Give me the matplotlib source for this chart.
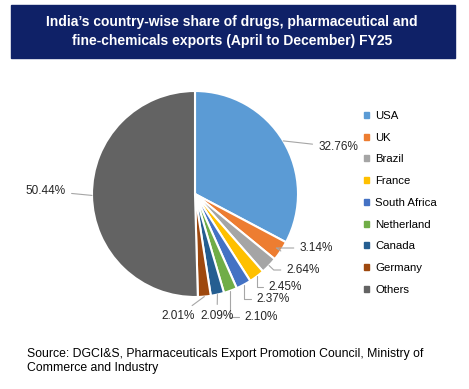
import numpy as np
import matplotlib.pyplot as plt
from matplotlib.patches import Rectangle

plt.rcParams['font.family'] = ['Liberation Sans', 'DejaVu Sans']

countries = ['USA', 'UK', 'Brazil', 'France', 'South Africa', 'Netherland',
             'Canada', 'Germany', 'Others']
shares = [32.76, 3.14, 2.64, 2.45, 2.37, 2.10, 2.09, 2.01, 50.44]
colors = ['#5B9BD5', '#ED7D31', '#A5A5A5', '#FFC000', '#4472C4', '#70AD47',
          '#255E91', '#9E480E', '#636363']

W, H = 469, 389
fig = plt.figure(figsize=(W / 100, H / 100), dpi=100)

# title banner
fig.patches.append(Rectangle((11 / W, 1 - 58 / H), 444 / W, 53 / H,
                             transform=fig.transFigure, color='#0F2167', zorder=0))
fig.text(232 / W, 1 - 31.5 / H,
         "India\u2019s country-wise share of drugs, pharmaceutical and\n"
         "fine-chemicals exports (April to December) FY25",
         ha='center', va='center', color='white', fontsize=10, fontweight='bold',
         linespacing=1.45)

# pie: centre (195,194) px, radius 103 px
cx, cy, r, k = 195, 194, 103, 1.8
ax = fig.add_axes([(cx - r * k) / W, (H - cy - r * k) / H, 2 * r * k / W, 2 * r * k / H])

wedges, _ = ax.pie(shares, colors=colors, startangle=90, counterclock=False,
                   radius=1, wedgeprops=dict(edgecolor='white', linewidth=1.5))
ax.set_xlim(-k, k)
ax.set_ylim(-k, k)
ax.set_aspect('equal')
ax.axis('off')

# label centres in pixels (layout only)
label_px = [(338, 147), (316, 248), (303, 270), (285, 287), (273, 299),
            (261, 317), (217, 316), (178, 316), (46, 191)]

for i, (w, val, (px, py)) in enumerate(zip(wedges, shares, label_px)):
    ang = np.deg2rad((w.theta1 + w.theta2) / 2)
    ex, ey = np.cos(ang), np.sin(ang)
    tx, ty = (px - cx) / r, (cy - py) / r
    if i in (0, 6, 7, 8):
        cs = 'arc3,rad=0'
    elif i in (3, 4, 5):
        cs = 'angle,angleA=0,angleB=90,rad=0'
    else:
        cs = f'angle,angleA=0,angleB={np.rad2deg(ang):.1f},rad=0'
    ax.annotate(f'{val:.2f}%', xy=(ex, ey), xytext=(tx, ty),
                ha='center', va='center', fontsize=8.5, color='#262626',
                annotation_clip=False,
                arrowprops=dict(arrowstyle='-', color='#A6A6A6', lw=0.8,
                                shrinkA=2, shrinkB=0, connectionstyle=cs))

handles = [Rectangle((0, 0), 1, 1, color=c) for c in colors]
fig.legend(handles, countries, loc='upper left', bbox_to_anchor=(364 / W, 1 - 111 / H),
           frameon=False, fontsize=8.2, handlelength=0.45, handleheight=0.45,
           handletextpad=0.55, labelspacing=1.03, borderaxespad=0, borderpad=0)

fig.text(27 / W, 1 - 361 / H,
         'Source: DGCI&S, Pharmaceuticals Export Promotion Council, Ministry of\n'
         'Commerce and Industry',
         ha='left', va='center', fontsize=8.85, color='black', linespacing=1.2)

fig.savefig('out.png', dpi=100, facecolor='white')
